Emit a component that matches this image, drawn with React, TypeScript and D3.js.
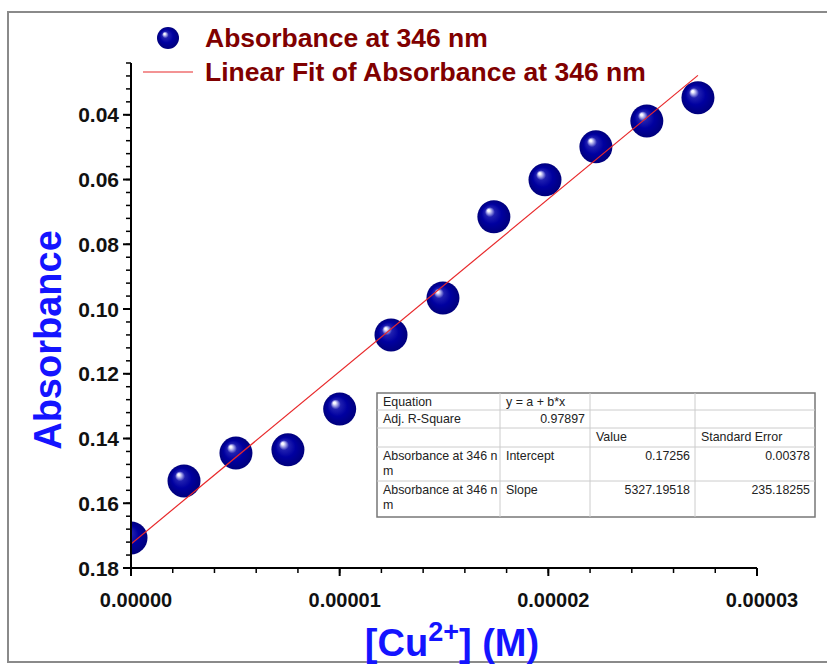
import * as d3 from 'd3'

// [Cu2+] concentrations (M) and measured absorbance at 346 nm
const conc = [0, 2.54e-6, 5.03e-6, 7.52e-6, 1.0e-5, 1.246e-5, 1.495e-5, 1.739e-5, 1.984e-5, 2.228e-5, 2.472e-5, 2.717e-5]
const absorbance = [0.1707, 0.1531, 0.1445, 0.1435, 0.1309, 0.108, 0.0966, 0.0715, 0.0601, 0.0499, 0.0419, 0.0347]

// linear fit parameters as reported
const fitIntercept = 0.17256
const fitSlope = 5327.19518

const xTicks = [0, 0.00001, 0.00002, 0.00003]
const yTicks = [0.04, 0.06, 0.08, 0.1, 0.12, 0.14, 0.16, 0.18]

const tableRows = [
  ['Equation', 'y = a + b*x', '', ''],
  ['Adj. R-Square', '0.97897', '', ''],
  ['', '', 'Value', 'Standard Error'],
  ['Absorbance at 346 n\nm', 'Intercept', '0.17256', '0.00378'],
  ['Absorbance at 346 n\nm', 'Slope', '5327.19518', '235.18255'],
]

const W = 827
const H = 664
const font = '"Liberation Sans", Arial, sans-serif'

export default function App() {
  const left = 131, right = 757, top = 63, bottom = 568
  const x = d3.scaleLinear().domain([0, 0.00003]).range([left, right])
  const y = d3.scaleLinear().domain([0.024, 0.18]).range([top, bottom])

  const xMinor = d3.range(0, 0.0000301, 0.000002)
  const yMinor = d3.range(0.024, 0.1801, 0.004)

  const fxEnd = conc[conc.length - 1]
  const fitLine = d3.line<number>()
    .x(d => x(d))
    .y(d => y(fitIntercept - fitSlope * d))([0, fxEnd])

  // table layout
  const colX = [377, 500, 590, 695, 815]
  const rowY = [393, 410, 428, 447, 481, 517]

  return (
    <svg width={W} height={H} style={{ position: 'absolute', left: 0, top: 0, background: '#fff' }} fontFamily={font}>
      <defs>
        <radialGradient id="ball" cx="0.5" cy="0.5" r="0.5" fx="0.33" fy="0.3">
          <stop offset="0%" stopColor="#ffffff" />
          <stop offset="7%" stopColor="#f4f4ff" />
          <stop offset="18%" stopColor="#9090e0" />
          <stop offset="30%" stopColor="#2020b0" />
          <stop offset="60%" stopColor="#0000a0" />
          <stop offset="100%" stopColor="#00007c" />
        </radialGradient>
        <clipPath id="plot">
          <rect x={left} y={top} width={right - left} height={bottom - top} />
        </clipPath>
      </defs>

      {/* outer frame */}
      <path d={`M${W + 2},12 H8 V662 H${W + 2}`} fill="none" stroke="#8a8a8a" strokeWidth={2} />

      {/* data points and fit */}
      <g clipPath="url(#plot)">
        {conc.map((c, i) => (
          <circle key={i} cx={x(c)} cy={y(absorbance[i])} r={16.5} fill="url(#ball)" />
        ))}
        <path d={fitLine ?? ''} fill="none" stroke="#e8282a" strokeWidth={1.2} />
      </g>

      {/* y axis */}
      <line x1={left} x2={left} y1={top} y2={bottom} stroke="#000" strokeWidth={2} />
      {yMinor.map((t, i) => (
        <line key={i} x1={left - 5} x2={left} y1={y(t)} y2={y(t)} stroke="#000" strokeWidth={1.5} />
      ))}
      {yTicks.map(t => (
        <g key={t}>
          <line x1={left - 8} x2={left} y1={y(t)} y2={y(t)} stroke="#000" strokeWidth={2} />
          <text x={left - 12} y={y(t)} dy="0.36em" textAnchor="end" fontSize={21} fontWeight="bold" fill="#111">
            {d3.format('.2f')(t)}
          </text>
        </g>
      ))}

      {/* x axis */}
      <line x1={left - 1} x2={right} y1={bottom} y2={bottom} stroke="#000" strokeWidth={2} />
      {xMinor.map((t, i) => (
        <line key={i} x1={x(t)} x2={x(t)} y1={bottom} y2={bottom + 5} stroke="#000" strokeWidth={1.5} />
      ))}
      {xTicks.map(t => (
        <g key={t}>
          <line x1={x(t)} x2={x(t)} y1={bottom} y2={bottom + 8} stroke="#000" strokeWidth={2} />
          <text x={x(t) + 5} y={bottom + 39} textAnchor="middle" fontSize={20} fontWeight="bold" fill="#111">
            {d3.format('.5f')(t)}
          </text>
        </g>
      ))}

      {/* axis titles */}
      <text transform={`translate(61,340) rotate(-90)`} textAnchor="middle" fontSize={38} fontWeight="bold" fill="#1414ff">
        Absorbance
      </text>
      <text x={452} y={656} textAnchor="middle" fontSize={38} fontWeight="bold" fill="#1414ff">
        [Cu<tspan fontSize={27} dy={-15}>2+</tspan><tspan dy={15}>] (M)</tspan>
      </text>

      {/* legend */}
      <circle cx={168} cy={38} r={11} fill="url(#ball)" />
      <text x={205} y={47} fontSize={26.5} fontWeight="bold" fill="#800000">Absorbance at 346 nm</text>
      <line x1={143} x2={193} y1={72} y2={72} stroke="#e8282a" strokeWidth={1.2} />
      <text x={205} y={81} fontSize={26.5} fontWeight="bold" fill="#800000">Linear Fit of Absorbance at 346 nm</text>

      {/* fit result table */}
      <g fontSize={12.4} fill="#222">
        <rect x={colX[0]} y={rowY[0]} width={colX[4] - colX[0]} height={rowY[5] - rowY[0]} fill="#fff" stroke="#777" strokeWidth={1.5} />
        {colX.slice(1, 4).map(cx => (
          <line key={cx} x1={cx} x2={cx} y1={rowY[0]} y2={rowY[5]} stroke="#ccc" />
        ))}
        {rowY.slice(1, 5).map(ry => (
          <line key={ry} x1={colX[0]} x2={colX[4]} y1={ry} y2={ry} stroke="#ccc" />
        ))}
        {tableRows.map((row, ri) =>
          row.map((cell, ci) => {
            if (!cell) return null
            const numeric = /^[0-9.]+$/.test(cell)
            const tx = numeric ? colX[ci + 1] - 5 : colX[ci] + 6
            const lines = cell.split('\n')
            return (
              <text key={`${ri}-${ci}`} x={tx} y={rowY[ri] + 13} textAnchor={numeric ? 'end' : 'start'}>
                {lines.map((l, li) => (
                  <tspan key={li} x={tx} dy={li === 0 ? 0 : 15}>{l}</tspan>
                ))}
              </text>
            )
          })
        )}
      </g>
    </svg>
  )
}
